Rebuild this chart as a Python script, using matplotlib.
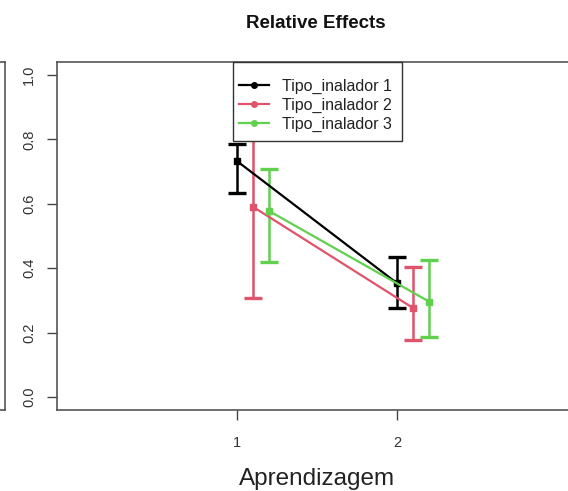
import matplotlib
matplotlib.use("Agg")
import matplotlib.pyplot as plt
from matplotlib.lines import Line2D
from matplotlib.patches import Rectangle

plt.rcParams['font.family'] = ['Liberation Sans', 'DejaVu Sans']

levels = [1, 2]
groups = ["Tipo_inalador 1", "Tipo_inalador 2", "Tipo_inalador 3"]
colors = ["#000000", "#DF536B", "#61D04F"]
offsets = [0.0, 0.1, 0.2]

effects = [[0.733, 0.353], [0.591, 0.276], [0.578, 0.296]]
lower = [[0.635, 0.276], [0.308, 0.178], [0.420, 0.188]]
upper = [[0.786, 0.435], [0.880, 0.403], [0.708, 0.427]]

fig = plt.figure(figsize=(5.68, 4.91), dpi=100)
ax = fig.add_axes([57 / 568, 81 / 491, 520 / 568, 348 / 491])

for g, name in enumerate(groups):
    xs = [lv + offsets[g] for lv in levels]
    ys = effects[g]
    yerr = [[ys[i] - lower[g][i] for i in range(2)],
            [upper[g][i] - ys[i] for i in range(2)]]
    ax.errorbar(xs, ys, yerr=yerr, color=colors[g], lw=1.6, elinewidth=1.8,
                capsize=6.5, capthick=2.4, marker='s', ms=4.5, zorder=2)

# legend box drawn like R's (taller padding on top)
ax.add_patch(Rectangle((176 / 520, 269 / 348), 169 / 520, 79 / 348,
                       transform=ax.transAxes, facecolor='white',
                       edgecolor='#333333', lw=1.0, zorder=4, clip_on=False))
handles = [Line2D([0], [0], color=c, lw=1.6, marker='o', ms=4) for c in colors]
leg = ax.legend(handles, groups, loc='upper left',
                bbox_to_anchor=(176 / 520, 1 - 11 / 348),
                frameon=False, fontsize=11.5, handlelength=1.9,
                handletextpad=0.8, labelspacing=0.25, borderpad=0.35,
                borderaxespad=0)
leg.set_zorder(5)
for t in leg.get_texts():
    t.set_color('#222222')

ax.set_xlim(-0.12, 3.12)
ax.set_ylim(-0.04, 1.04)
ax.set_xticks(levels)
ax.set_yticks([0.0, 0.2, 0.4, 0.6, 0.8, 1.0])
ax.set_yticklabels(["0.0", "0.2", "0.4", "0.6", "0.8", "1.0"], rotation=90, va='center')
ax.tick_params(axis='both', length=7, width=1, color='#444444', labelsize=10.5,
               labelcolor='#333333')
ax.tick_params(axis='y', pad=8)
ax.tick_params(axis='x', pad=12)
for s in ax.spines.values():
    s.set_color('#555555')
    s.set_linewidth(1.2)

ax.set_xlabel("Aprendizagem", fontsize=17.5, labelpad=12.5, color='#222222')
fig.text(316 / 568, 1 - 23 / 491, "Relative Effects", ha='center', va='center',
         fontsize=13.5, fontweight='bold', color='#111111')

# edge of the neighbouring panel on the left
fig.add_artist(Line2D([5 / 568, 5 / 568], [81 / 491, 429 / 491], color='#555555',
                      lw=1.2, transform=fig.transFigure))
fig.add_artist(Line2D([0, 5 / 568], [81 / 491, 81 / 491], color='#555555',
                      lw=1.2, transform=fig.transFigure))
fig.add_artist(Line2D([0, 5 / 568], [429 / 491, 429 / 491], color='#555555',
                      lw=1.2, transform=fig.transFigure))

fig.savefig("out.png", dpi=100)
